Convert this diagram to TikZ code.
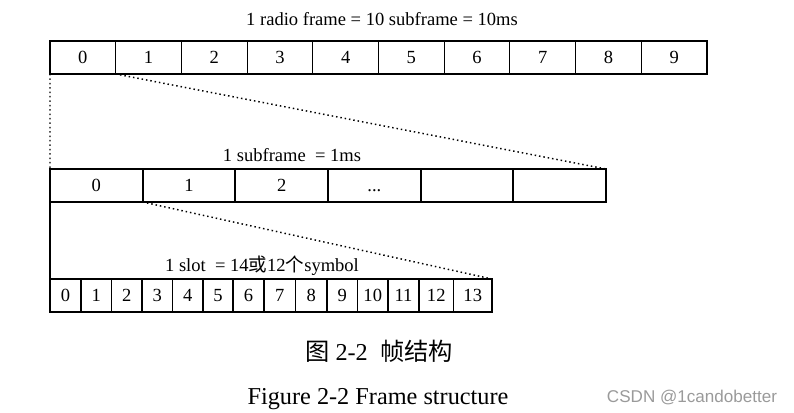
\documentclass[tikz,border=0pt]{standalone}
\usepackage{fontspec}
\setmainfont{Liberation Serif}
\newfontfamily\cjk{Noto Sans CJK SC}
\newfontfamily\wmfont{Liberation Sans}
\definecolor{wmgray}{HTML}{9A9A9A}
\newcommand\moredots{...}
\tikzset{
  cellbase/.style={draw, inner sep=0pt, outer sep=0pt, minimum height=24.75pt,
    text height=9.2pt, text depth=0pt, font=\fontsize{13.9}{16}\selectfont},
  fcell/.style={cellbase, line width=0.8pt, minimum width=49.27pt},
  mcell/.style={cellbase, line width=1.4pt, minimum width=69.5pt},
  scell/.style={cellbase, line width=0.9pt},
  edge/.style={line width=2pt},
  zoomline/.style={line width=1.1pt, dash pattern=on 1.1pt off 2.2pt},
  lbl/.style={anchor=base, inner sep=0pt, font=\fontsize{13.9}{16}\selectfont},
  capline/.style={anchor=base, inner sep=0pt, font=\fontsize{18.2}{22}\selectfont}
}

\begin{document}
\begin{tikzpicture}[x=0.75pt, y=-0.75pt]
\useasboundingbox (0,0) rectangle (794,413);

% radio frame
\node[lbl] (ttl) at (382,26) {1 radio frame = 10 subframe = 10ms};
\foreach \i in {0,...,9}
  \node[fcell] (f\i) at ({50+65.7*(\i+0.5)},57.5) {\i};
\draw[edge] (f0.north west) -- (f9.north east);
\draw[edge] (f0.south west) -- (f9.south east);

% subframe
\node[lbl] (subl) at (292,161.5) {1 subframe \ = 1ms};
\foreach \i/\t in {0/0,1/1,2/2,3/\moredots,4/,5/}
  \node[mcell] (m\i) at ({50+92.67*(\i+0.5)},185.5) {\t};
\draw[edge] (m0.north west) -- (m5.north east);
\draw[edge] (m0.south west) -- (m5.south east);

% slot
\node[lbl] (slotl) at (262,271.5) {1 slot \ = 14{\cjk 或}12{\cjk 个}symbol};
\foreach \i/\a/\b in {0/50/81,1/81/111.5,2/111.5/142,3/142/172.5,4/172.5/203,
    5/203/233,6/233/264,7/264/295.5,8/295.5/327,9/327/357.5,10/357.5/388,
    11/388/419,12/419/453.5,13/453.5/492}{
  \pgfmathsetmacro\w{(\b-\a)*0.75}
  \node[scell, minimum width=\w pt] (s\i) at ({(\a+\b)/2},295.5) {\i};
}
\draw[edge] (s0.north west) -- (s13.north east);
\draw[edge] (s0.south west) -- (s13.south east);

% zoom lines
\draw[zoomline] (f0.south west) -- (m0.north west);
\draw[zoomline] (f1.south west) -- (m5.north east);
\draw[line width=1.4pt] (m0.south west) -- (s0.north west);
\draw[zoomline] (m1.south west) -- (s13.north east);

% captions
\node[capline] (capcn) at (379,361) {{\cjk 图} 2-2 \ {\cjk 帧结构}};
\node[capline] (capen) at (378,405) {Figure 2-2 Frame structure};
\node[anchor=base, inner sep=0pt, text=wmgray, font=\wmfont\fontsize{12.8}{15}\selectfont]
  (wm) at (692,403) {CSDN @1candobetter};
\end{tikzpicture}
\end{document}
